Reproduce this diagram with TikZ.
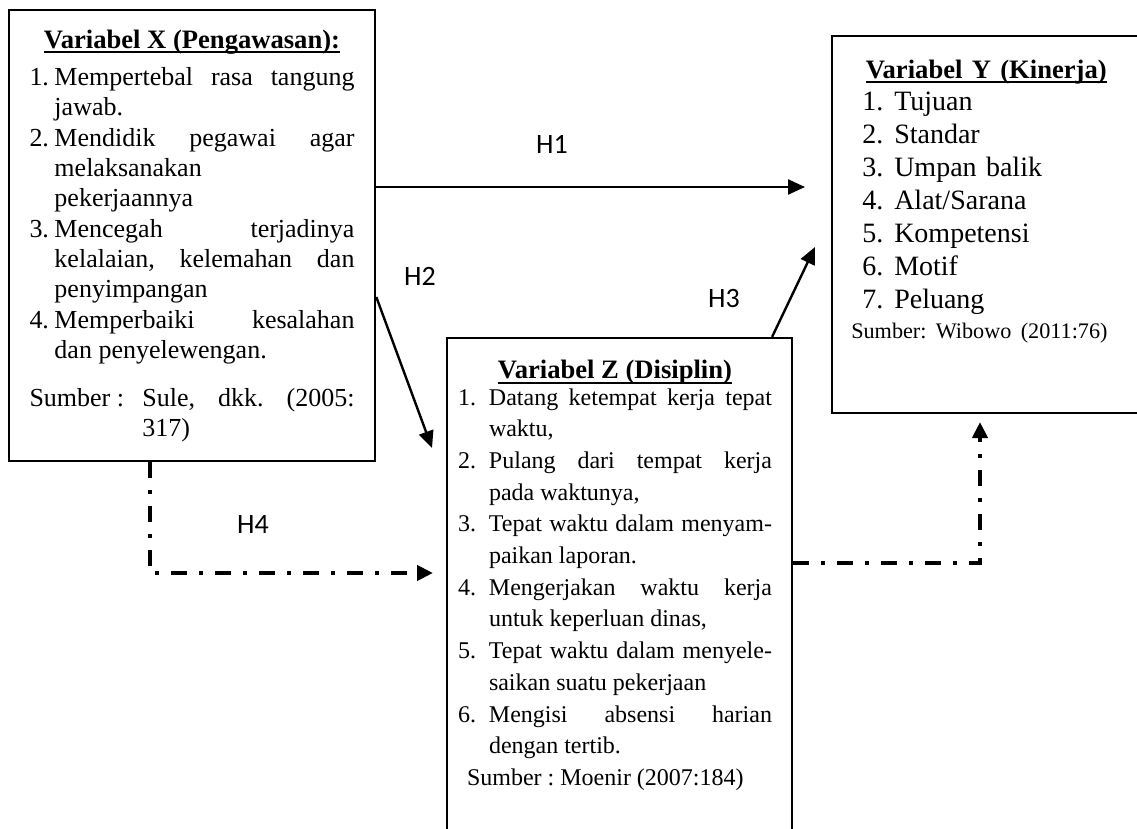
\documentclass[tikz,border=0pt]{standalone}
\usepackage{fontspec}
\setmainfont{Liberation Serif}
\newfontfamily\lblfont{Carlito}
\usetikzlibrary{positioning, arrows.meta}
\frenchspacing

\newlength\lblw
\newcommand{\ttl}[1]{\setbox0\hbox{\bfseries #1}\rlap{\copy0}\rule[-2.3pt]{\wd0}{1pt}}
\newcommand{\itm}[2]{\par\noindent\hangindent=\lblw\hangafter=1\makebox[\lblw][l]{#1}#2}

\begin{document}
\begin{tikzpicture}[
        x=0.5pt, y=-0.5pt,
        box/.style={
            rectangle,
            draw,
            line width=1.1pt,
            inner sep=0pt
        },
        txt/.style={
            inner sep=0pt
        },
        arr/.style={
            -{Triangle[length=8.5pt,width=7.5pt]},
            line width=1.2pt
        },
        dasharr/.style={
            -{Triangle[length=8pt,width=7.5pt]},
            line width=2pt,
            dash pattern=on 8pt off 6pt on 2pt off 6pt
        },
        hyp/.style={
            font=\lblfont\fontsize{14}{16}\selectfont
        }
    ]

        \useasboundingbox (0,0) rectangle (1137,829);

        \node[box, line width=1.3pt, minimum width=183pt, minimum height=225.5pt] (xbox) at (192,235.5) {};
        \node[box, minimum width=159pt, minimum height=188.5pt] (ybox) at (991,224.5) {};
        \node[box, minimum width=172.5pt, minimum height=256pt] (zbox) at (619.5,594) {};

        \node[txt, text width=162.5pt, align=justify, font=\fontsize{13}{15.15}\selectfont, below=10.4pt of xbox.north] (xtext) {%
            \setlength\lblw{12.5pt}%
            {\centering\fontsize{13.3}{16}\selectfont\ttl{Variabel X (Pengawasan):}\par}
            \vspace{3.5pt}
            \itm{1.}{Mempertebal rasa tangung\linebreak jawab.}
            \itm{2.}{Mendidik pegawai agar\linebreak melaksanakan\newline pekerjaannya}
            \itm{3.}{Mencegah terjadinya\linebreak kelalaian, kelemahan dan\linebreak penyimpangan}
            \itm{4.}{Memperbaiki kesalahan\linebreak dan penyelewengan.}
            \par\vspace{9pt}
            \setlength\lblw{56.5pt}%
            \itm{Sumber :}{Sule, dkk. (2005:\linebreak 317)}\par};

        \node[txt, text width=124pt, align=left, font=\fontsize{14}{16.5}\selectfont, below right=12.4pt and 15.5pt of ybox.north west] (ytext) {%
            \setlength\lblw{16pt}%
            {\centering\fontsize{13.3}{16}\selectfont\ttl{Variabel Y (Kinerja)}\par}
            \vspace{-0.5pt}
            \itm{1.}{Tujuan}
            \itm{2.}{Standar}
            \itm{3.}{Umpan balik}
            \itm{4.}{Alat/Sarana}
            \itm{5.}{Kompetensi}
            \itm{6.}{Motif}
            \itm{7.}{Peluang}
            \par{\fontsize{11.1}{15}\selectfont\noindent\hspace*{-5.5pt}\mbox{Sumber: Wibowo (2011:76)}\par}};

        \node[txt, text width=157pt, align=justify, font=\fontsize{12}{15.85}\selectfont, below=11.6pt of zbox.north, xshift=-2.25pt] (ztext) {%
            \setlength\lblw{15.5pt}%
            {\centering\fontsize{13.3}{16}\selectfont\ttl{Variabel Z (Disiplin)}\par}
            \vspace{-2.8pt}
            \itm{1.}{Datang ketempat kerja tepat\linebreak waktu,}
            \itm{2.}{Pulang dari tempat kerja\linebreak pada waktunya,}
            \itm{3.}{Tepat waktu dalam menyam-\linebreak paikan laporan.}
            \itm{4.}{Mengerjakan waktu kerja\linebreak untuk keperluan dinas,}
            \itm{5.}{Tepat waktu dalam menyele-\linebreak saikan suatu pekerjaan}
            \itm{6.}{Mengisi absensi harian\linebreak dengan tertib.}
            \par\noindent\hspace*{4.5pt}Sumber : Moenir (2007:184)\par};

        \node[hyp] (h1) at (552,144) {H1};
        \node[hyp] (h2) at (420,276) {H2};
        \node[hyp] (h3) at (724,299) {H3};
        \node[hyp] (h4) at (253,525) {H4};

        \coordinate (h1tip) at (805,187);
        \coordinate (h2tip) at (432,448);
        \coordinate (h3tip) at (815,247);
        \coordinate (h4tip) at (433,573);
        \coordinate (zytip) at (980,422);

        \draw[arr] (xbox.east |- h1tip) -- (h1tip);
        \draw[arr] ([yshift=-30.75pt]xbox.east) -- (h2tip);
        \draw[arr] ([xshift=-10.5pt]zbox.north east) -- (h3tip);
        \draw[dasharr] ([xshift=-21pt]xbox.south) |- (h4tip);
        \draw[dasharr] ([yshift=15.5pt]zbox.east) -| (zytip);

    \end{tikzpicture}
\end{document}
